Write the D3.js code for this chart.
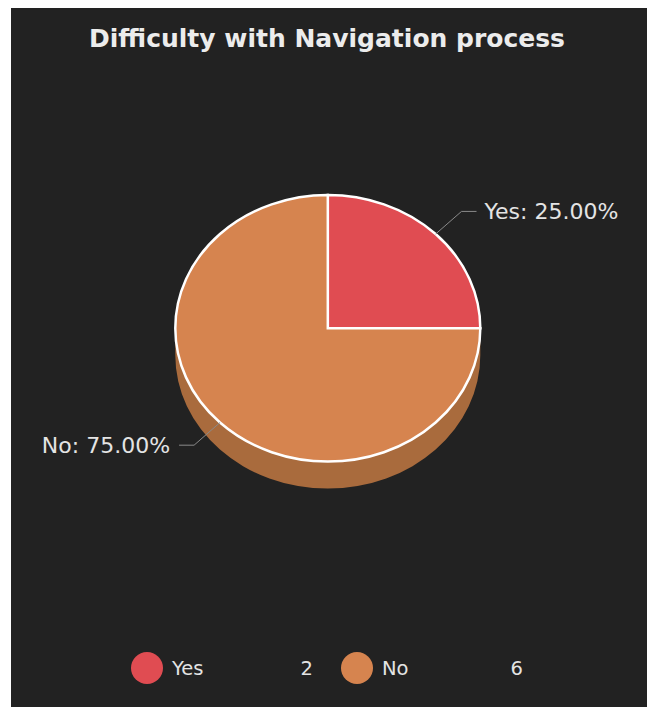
<!DOCTYPE html>
<html>
<head>
<meta charset="utf-8">
<script src="https://cdn.jsdelivr.net/npm/d3@7"></script>
<style>
  html, body { margin: 0; padding: 0; background: #ffffff; }
  svg { display: block; }
</style>
</head>
<body>
<svg id="chart" width="647" height="707"></svg>
<script>
// Survey answers and their counts
const categories = ["Yes", "No"];
const counts = [2, 6];
const sliceColors = ["#e04c52", "#d6844f"];
const sideColors = ["#a8393d", "#a96b3d"];
const titleText = "Difficulty with Navigation process";

const W = 647, H = 707;
const svg = d3.select("#chart");

// dark panel
svg.append("rect")
  .attr("x", 11).attr("y", 8)
  .attr("width", W - 11).attr("height", H - 8)
  .attr("fill", "#222222");

// title
svg.append("text")
  .attr("x", 327).attr("y", 47)
  .attr("text-anchor", "middle")
  .attr("font-family", "DejaVu Sans")
  .attr("font-weight", "bold")
  .attr("font-size", 25)
  .attr("fill", "#ececec")
  .text(titleText);

// tilted pie geometry
const cx = 327.8, cy = 328.3, rx = 152.5, ry = 133.3, depth = 27;
const color = d3.scaleOrdinal().domain(categories).range(sliceColors);
const sideColor = d3.scaleOrdinal().domain(categories).range(sideColors);
const total = d3.sum(counts);
const data = categories.map((c, i) => ({ cat: c, value: counts[i] }));
const arcs = d3.pie().sort(null).value(d => d.value).startAngle(0).endAngle(2 * Math.PI)(data);

const pt = (a, k = 1, dy = 0) => [cx + rx * k * Math.sin(a), cy - ry * k * Math.cos(a) + dy];
const fmt = p => p[0].toFixed(2) + "," + p[1].toFixed(2);

// side walls: only the front half (angles between PI/2 and 3PI/2) shows
const gSide = svg.append("g");
arcs.forEach(a => {
  const a0 = Math.max(a.startAngle, Math.PI / 2);
  const a1 = Math.min(a.endAngle, 3 * Math.PI / 2);
  if (a1 <= a0) return;
  const d = "M" + fmt(pt(a0)) +
    " A" + rx + "," + ry + " 0 0 1 " + fmt(pt(a1)) +
    " L" + fmt(pt(a1, 1, depth)) +
    " A" + rx + "," + ry + " 0 0 0 " + fmt(pt(a0, 1, depth)) + " Z";
  gSide.append("path").attr("d", d).attr("fill", sideColor(a.data.cat));
});

// top face
const gTop = svg.append("g");
arcs.forEach(a => {
  const large = (a.endAngle - a.startAngle) > Math.PI ? 1 : 0;
  const d = "M" + fmt([cx, cy]) +
    " L" + fmt(pt(a.startAngle)) +
    " A" + rx + "," + ry + " 0 " + large + " 1 " + fmt(pt(a.endAngle)) + " Z";
  gTop.append("path").attr("d", d)
    .attr("fill", color(a.data.cat))
    .attr("stroke", "#ffffff")
    .attr("stroke-width", 2.5)
    .attr("stroke-linejoin", "miter");
});

// leader lines and percentage labels
const gLab = svg.append("g");
arcs.forEach(a => {
  const mid = (a.startAngle + a.endAngle) / 2;
  const p0 = pt(mid);
  const p1 = pt(mid, 1.24);
  const right = Math.sin(mid) >= 0;
  const p2 = [p1[0] + (right ? 15 : -15), p1[1]];
  gLab.append("polyline")
    .attr("points", [p0, p1, p2].map(fmt).join(" "))
    .attr("fill", "none")
    .attr("stroke", "#8a8a8a")
    .attr("stroke-width", 1);
  gLab.append("text")
    .attr("x", p2[0] + (right ? 8 : -9))
    .attr("y", p1[1] + 8)
    .attr("text-anchor", right ? "start" : "end")
    .attr("font-family", "DejaVu Sans")
    .attr("font-size", 22)
    .attr("fill", "#e4e4e4")
    .text(a.data.cat + ": " + (a.data.value / total * 100).toFixed(2) + "%");
});

// legend
const legendX = d3.scalePoint().domain(categories).range([147, 357]);
const gLeg = svg.append("g");
data.forEach(d => {
  const x = legendX(d.cat);
  gLeg.append("circle").attr("cx", x).attr("cy", 668).attr("r", 16).attr("fill", color(d.cat));
  gLeg.append("text")
    .attr("x", x + 25).attr("y", 675)
    .attr("font-family", "DejaVu Sans").attr("font-size", 19.5)
    .attr("fill", "#e4e4e4").text(d.cat);
  gLeg.append("text")
    .attr("x", x + 166).attr("y", 675)
    .attr("text-anchor", "end")
    .attr("font-family", "DejaVu Sans").attr("font-size", 19.5)
    .attr("fill", "#e4e4e4").text(d.value);
});
</script>
</body>
</html>
